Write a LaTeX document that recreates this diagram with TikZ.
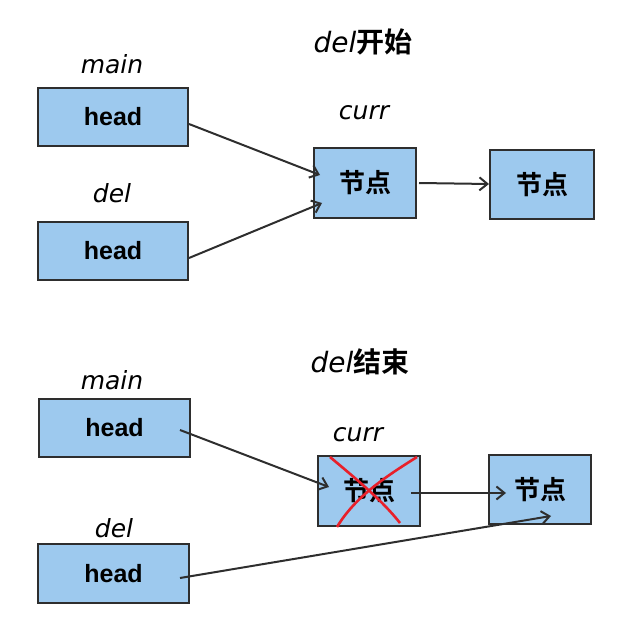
\documentclass[tikz,border=0pt]{standalone}
\usepackage{fontspec}
\setmainfont{Liberation Sans}
\newfontfamily\cjkbold[BoldFont={Noto Sans CJK SC Bold}]{Noto Sans CJK SC}
\newfontfamily\hand{DejaVu Sans}
\usetikzlibrary{arrows.meta}
\definecolor{boxfill}{HTML}{9DC9EE}
\definecolor{boxline}{HTML}{2E2E2E}
\definecolor{xred}{HTML}{E8202A}
\begin{document}
\begin{tikzpicture}[x=1pt,y=-1pt,
  box/.style={draw=boxline,line width=2pt,fill=boxfill,inner sep=0pt,anchor=north west},
  headtxt/.style={font=\bfseries\fontsize{25}{28}\selectfont},
  nodetxt/.style={font=\cjkbold\bfseries\fontsize{26}{28}\selectfont},
  lbl/.style={font=\hand\itshape\fontsize{25}{28}\selectfont},
  ttl/.style={font=\fontsize{28}{32}\selectfont},
  link/.style={draw=boxline,line width=2pt,-{Straight Barb[length=8pt,width=13pt]}},
  cross/.style={draw=xred,line width=2.6pt}]
\useasboundingbox (0,0) rectangle (643,644);
% ---------- top ----------
\node[ttl] (t1) at (363,42) {{\hand\itshape del}{\cjkbold\bfseries 开始}};
\node[lbl] (l1) at (112,64) {main};
\node[box,minimum width=150pt,minimum height=58pt] (m1) at (37,87) {};
\node[headtxt] at (m1.center) {head};
\node[lbl] (l2) at (112,193) {del};
\node[box,minimum width=150pt,minimum height=58pt] (d1) at (37,221) {};
\node[headtxt] at (d1.center) {head};
\node[lbl] (l3) at (364,113) {curr};
\node[box,minimum width=102pt,minimum height=70pt] (c1) at (313,147) {};
\node[nodetxt] at (c1.center) {节点};
\node[box,minimum width=104pt,minimum height=69pt] (n1) at (489,149) {};
\node[nodetxt] at (n1.center) {节点};
\coordinate (m1s) at (189,124);
\coordinate (c1a) at (320,175);
\coordinate (d1s) at (189,258);
\coordinate (c1b) at (322,203);
\coordinate (c1s) at (419,183);
\draw[link] (m1s) -- (c1a);
\draw[link] (d1s) -- (c1b);
\draw[link] (c1s) -- (n1.west |- 0,184);
% ---------- bottom ----------
\node[ttl] (t2) at (360,362) {{\hand\itshape del}{\cjkbold\bfseries 结束}};
\node[lbl] (l4) at (112,380) {main};
\node[box,minimum width=151pt,minimum height=58pt] (m2) at (38,398) {};
\node[headtxt] at (m2.center) {head};
\node[lbl] (l5) at (358,435) {curr};
\node[box,minimum width=102pt,minimum height=70pt] (c2) at (317,455) {};
\node[nodetxt] at (c2.center) {节点};
\node[box,minimum width=102pt,minimum height=69pt] (n2) at (488,454) {};
\node[nodetxt] at (n2.center) {节点};
\node[lbl] (l6) at (114,528) {del};
\node[box,minimum width=151pt,minimum height=59pt] (d2) at (37,543) {};
\node[headtxt] at (d2.center) {head};
\coordinate (m2s) at (180,430);
\coordinate (c2a) at (329,487);
\coordinate (c2s) at (411,493);
\coordinate (n2a) at (506,493);
\coordinate (d2s) at (180,578);
\coordinate (n2b) at (551,516);
\draw[link] (m2s) -- (c2a);
\draw[link] (c2s) -- (n2a);
\draw[link] (d2s) -- (n2b);
\coordinate (x1a) at (330,457);
\coordinate (x1b) at (400,523);
\coordinate (x2a) at (417,457);
\coordinate (x2b) at (337,527);
\draw[cross] (x1a) .. controls (355,478) and (382,500) .. (x1b);
\draw[cross] (x2a) .. controls (385,477) and (355,497) .. (x2b);
\end{tikzpicture}
\end{document}
